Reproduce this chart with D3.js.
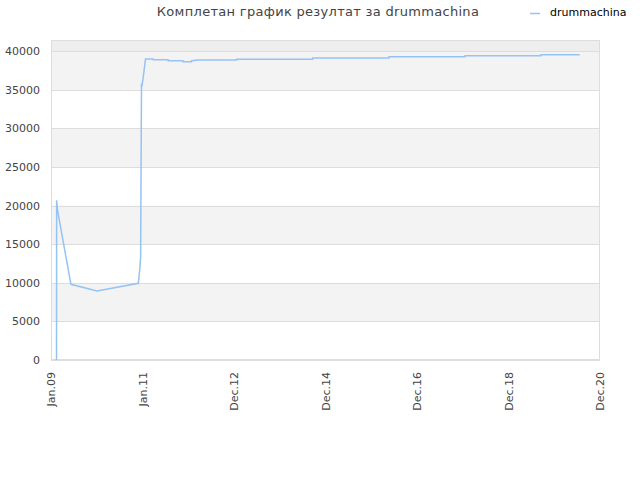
<!DOCTYPE html>
<html><head><meta charset="utf-8">
<script src="https://cdn.jsdelivr.net/npm/d3@7"></script>
<style>
body{margin:0;background:#fff;}
svg{font-family:"DejaVu Sans",Verdana,sans-serif;}
</style></head>
<body>
<svg id="c" width="640" height="480"></svg>
<script>
const title = "Комплетан график резултат за drummachina";
const seriesName = "drummachina";
const dates = ["2009-02-14","2009-02-15","2009-02-22","2009-06-09","2010-01-03","2010-11-29","2010-12-12","2010-12-17","2010-12-24","2010-12-27","2011-01-06","2011-01-25","2011-03-26","2011-03-27","2011-07-24","2011-07-25","2011-11-20","2011-11-21","2012-01-27","2012-01-28","2012-03-20","2013-01-20","2013-01-21","2014-09-19","2014-09-20","2016-05-20","2016-05-21","2018-01-16","2018-01-17","2019-09-13","2019-09-14","2020-07-21"];
const values = [0,20700,19400,9800,8950,9930,12090,13340,35800,35400,36500,39000,39000,38900,38900,38750,38750,38640,38640,38770,38860,38860,38970,38970,39120,39120,39290,39290,39420,39420,39550,39550];
const yTicks = [0,5000,10000,15000,20000,25000,30000,35000,40000];
const xTickDates = ["2009-01-01","2011-01-01","2012-12-31","2014-12-31","2016-12-30","2018-12-30","2020-12-29"];
const xTickLabels = ["Jan.09","Jan.11","Dec.12","Dec.14","Dec.16","Dec.18","Dec.20"];

const svg = d3.select("#c");
const L=51,R=600,T=40,B=360;
const parse = d3.timeParse("%Y-%m-%d");
const x = d3.scaleTime().domain([parse("2009-01-01"),parse("2020-12-29")]).range([L,R]);
const y = d3.scaleLinear().domain([0,41450]).range([B,T]);

// background
svg.append("rect").attr("x",L).attr("y",T).attr("width",R-L).attr("height",B-T).attr("fill","#fff");
svg.append("rect").attr("x",L).attr("y",T).attr("width",R-L).attr("height",y(40000)-T).attr("fill","#eeeeee");
for(let i=0;i<yTicks.length-1;i++){
  if(i%2===1){
    svg.append("rect").attr("x",L).attr("y",y(yTicks[i+1])).attr("width",R-L)
      .attr("height",y(yTicks[i])-y(yTicks[i+1])).attr("fill","#f3f3f3");
  }
}
// grid
svg.append("g").selectAll("line").data(yTicks).join("line")
  .attr("x1",L).attr("x2",R).attr("y1",d=>Math.round(y(d))+0.5).attr("y2",d=>Math.round(y(d))+0.5)
  .attr("stroke","#dddddd").attr("stroke-width",1);
svg.append("rect").attr("x",L+0.5).attr("y",T+0.5).attr("width",R-L-1).attr("height",B-T-1)
  .attr("fill","none").attr("stroke","#dddddd");

// y axis
const ya = svg.append("g").attr("transform",`translate(${L-11},0)`)
  .call(d3.axisLeft(y).tickValues(yTicks).tickSize(0).tickPadding(0).tickFormat(d3.format("d")));
ya.select(".domain").remove();
ya.selectAll("text").attr("fill","#444").style("font-size","11px").style("font-family","DejaVu Sans");

// x axis
const xa = svg.append("g").attr("transform",`translate(0,${B})`)
  .call(d3.axisBottom(x).tickValues(xTickDates.map(parse)).tickSize(0)
    .tickFormat((d,i)=>xTickLabels[i]));
xa.select(".domain").remove();
xa.selectAll("text").attr("fill","#444").style("font-size","11px").style("font-family","DejaVu Sans")
  .attr("text-anchor","end").attr("transform","rotate(-90)").attr("x",-12).attr("y",0).attr("dy","0.35em");

// line
const data = dates.map((d,i)=>({d:parse(d),v:values[i]}));
svg.append("path").datum(data)
  .attr("fill","none").attr("stroke","#95c3f3").attr("stroke-width",1.5)
  .attr("d",d3.line().x(d=>x(d.d)).y(d=>y(d.v)));

// title
svg.append("text").attr("x",318).attr("y",16).attr("text-anchor","middle")
  .attr("fill","#444").style("font-size","13px").style("letter-spacing","0.3px").text(title);
// legend
svg.append("line").attr("x1",530).attr("x2",540).attr("y1",13.5).attr("y2",13.5)
  .attr("stroke","#95c3f3").attr("stroke-width",1.5);
svg.append("text").attr("x",550).attr("y",16).attr("fill","#000").style("font-size","11px").text(seriesName);
</script>
</body></html>
